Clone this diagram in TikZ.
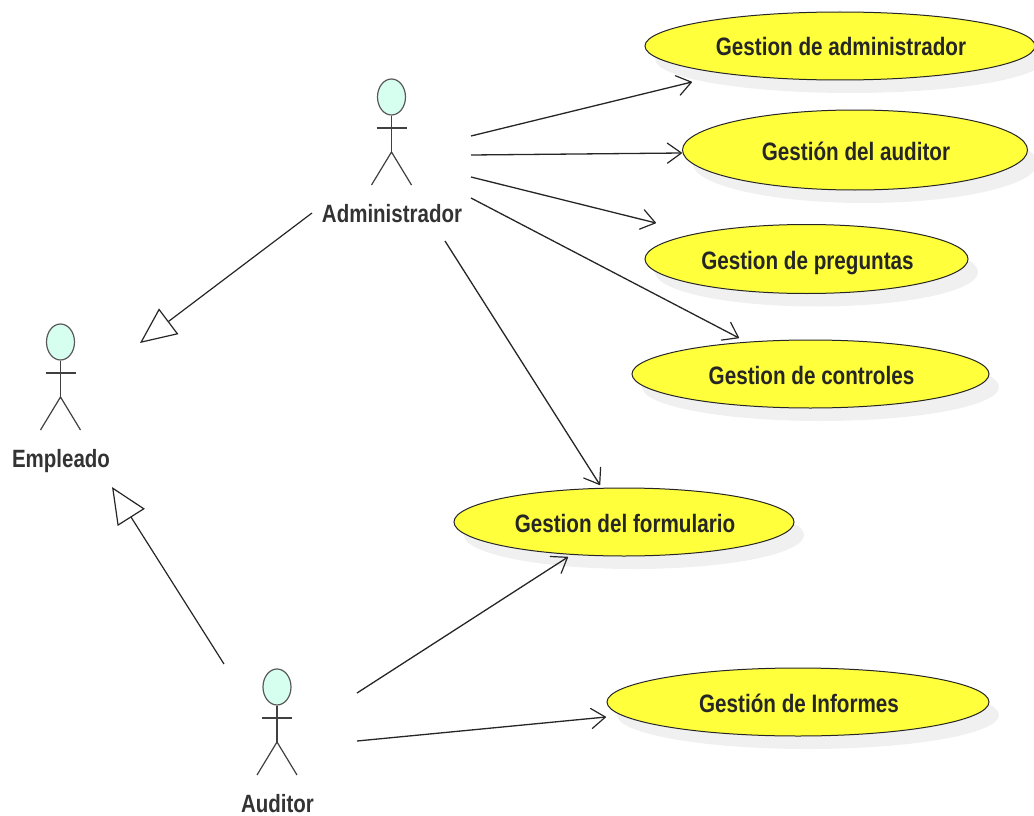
\documentclass[tikz,border=0pt]{standalone}
\usepackage{fontspec}
\setmainfont{Liberation Sans}[FakeStretch=0.82]
\usetikzlibrary{arrows.meta,shapes.geometric}
\definecolor{ucyellow}{RGB}{255,255,60}
\definecolor{actorfill}{RGB}{214,255,240}
\definecolor{ucshadow}{RGB}{240,240,240}
\tikzset{x=1pt,y=-1pt,
  ucase/.style={ellipse,draw=black!85,line width=1pt,fill=ucyellow,inner sep=0pt},
  uctext/.style={font=\bfseries\fontsize{25.2}{27}\selectfont,text=black!85,inner sep=0pt,anchor=base},
  ucshade/.style={ellipse,fill=ucshadow,inner sep=0pt},
  actorhead/.style={ellipse,draw=black!65,line width=1.2pt,fill=actorfill,minimum width=28pt,minimum height=36pt,inner sep=0pt},
  limb/.style={draw=black!75,line width=1.2pt},
  actorlabel/.style={font=\bfseries\fontsize{25}{27}\selectfont,text=black!80,inner sep=0pt,anchor=base},
  assoc/.style={draw=black!85,line width=1.3pt,-{Straight Barb[length=14pt,width=20pt,line width=1.2pt,round]}},
  generaliz/.style={draw=black!85,line width=1.2pt,-{Triangle[open,length=36pt,width=32pt,line width=1.2pt,fill=white]}}
}
\newcommand{\usecase}[6]{%
  \node[ucshade,minimum width=#4pt,minimum height=#5pt] at (#2+10,#3+13) {};
  \node[ucase,minimum width=#4pt,minimum height=#5pt] (#1) at (#2,#3) {};
  \node[uctext] (#1text) at (#2+1,#3+10) {#6};
}
\newcommand{\actorfig}[4]{%
  \node[actorhead] (#1) at (#2,#3) {};
  \coordinate (#1hip) at (#2,#3+55);
  \draw[limb] (#1.south) -- (#1hip);
  \coordinate (#1armL) at (#2-15,#3+31);
  \coordinate (#1armR) at (#2+15,#3+31);
  \draw[limb] (#1armL) -- (#1armR);
  \coordinate (#1legL) at (#2-20,#3+88);
  \coordinate (#1legR) at (#2+20,#3+88);
  \draw[limb] (#1legL) -- (#1hip) -- (#1legR);
  \node[actorlabel] (#1label) at (#2+0.5,#3+125) {#4};
}
\begin{document}
\begin{tikzpicture}
\useasboundingbox (0,0) rectangle (1034,816);
\usecase{ua}{840}{46}{390}{68}{Gestion de administrador}
\usecase{ub}{855}{150}{345}{80}{Gestión del auditor}
\usecase{uc}{806.5}{259}{323}{69}{Gestion de preguntas}
\usecase{ud}{810.5}{374}{357}{68}{Gestion de controles}
\usecase{ue}{624}{522}{340}{68}{Gestion del formulario}
\usecase{uf}{798}{702}{382}{68}{Gestión de Informes}
\actorfig{adm}{391.5}{97}{Administrador}
\actorfig{emp}{60.5}{342}{Empleado}
\actorfig{aud}{277}{687}{Auditor}
% free ends
\coordinate (a1) at (471,136); \coordinate (a1e) at (692,82);
\coordinate (a2) at (471,155); \coordinate (a2e) at (682,153);
\coordinate (a3) at (471,177); \coordinate (a3e) at (656,223);
\coordinate (a4) at (471,198); \coordinate (a4e) at (739,338);
\coordinate (a5) at (445,241); \coordinate (a5e) at (600,485);
\coordinate (g1) at (312,213); \coordinate (g1e) at (140,343);
\coordinate (g2) at (224,664); \coordinate (g2e) at (112,487);
\coordinate (b1) at (357,693); \coordinate (b1e) at (568,557);
\coordinate (b2) at (357,741); \coordinate (b2e) at (606,717);
\draw[assoc] (a1) -- (a1e);
\draw[assoc] (a2) -- (a2e);
\draw[assoc] (a3) -- (a3e);
\draw[assoc] (a4) -- (a4e);
\draw[assoc] (a5) -- (a5e);
\draw[assoc] (b1) -- (b1e);
\draw[assoc] (b2) -- (b2e);
\draw[generaliz] (g1) -- (g1e);
\draw[generaliz] (g2) -- (g2e);
\end{tikzpicture}
\end{document}
